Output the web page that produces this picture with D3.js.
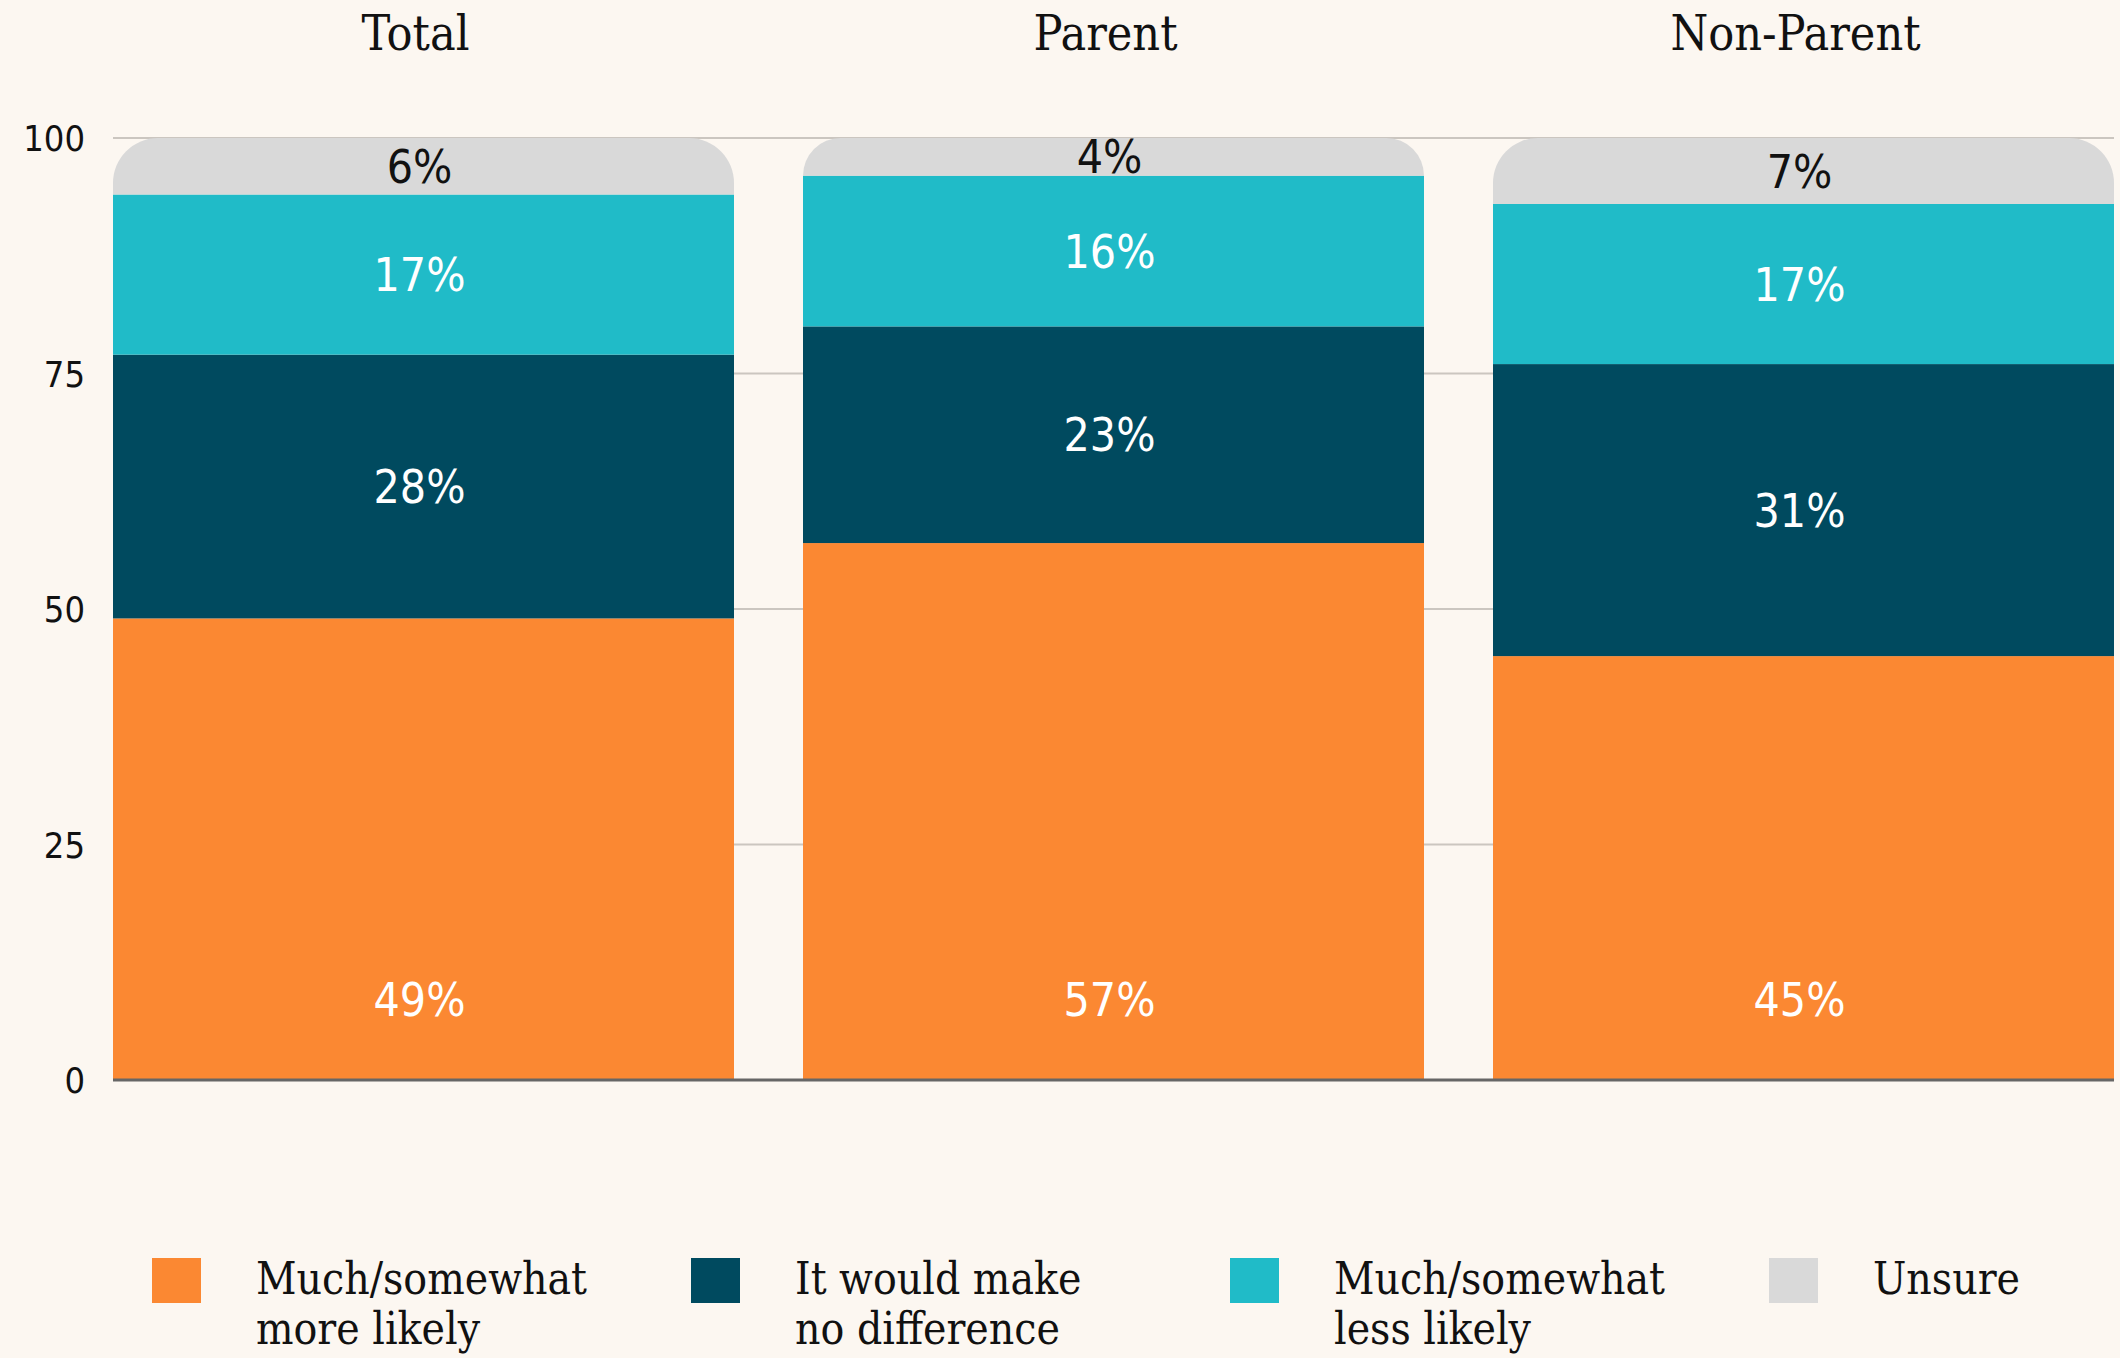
<!DOCTYPE html>
<meta charset="utf-8">
<style>
body { margin: 0; background: #fcf7f1; }
svg { display: block; background: #fcf7f1; }
.title, .legend text {
  font-family: "DejaVu Serif Condensed", "DejaVu Serif", serif;
  font-stretch: condensed;
}
.title { font-size: 48px; fill: #111; }
.legend text { font-size: 44px; fill: #111; }
.value, .yaxis text {
  font-family: "DejaVu Sans Condensed", "DejaVu Sans", sans-serif;
  font-stretch: condensed;
}
.value { font-size: 46px; }
.yaxis text { font-size: 36px; fill: #111; }
.grid line { stroke: #cbc6c0; stroke-width: 2px; }
</style>
<body>
<script src="https://d3js.org/d3.v7.min.js"></script>
<script>
// survey groups and answer shares (%)
var groups = ["Total", "Parent", "Non-Parent"];
var moreLikely   = [49, 57, 45];
var noDifference = [28, 23, 31];
var lessLikely   = [17, 16, 17];
var unsure       = [6, 4, 7];

var seriesKeys = ["more", "nodiff", "less", "unsure"];
var legendLines = [
  ["Much/somewhat", "more likely"],
  ["It would make", "no difference"],
  ["Much/somewhat", "less likely"],
  ["Unsure"]
];
var colors = ["#fb8832", "#004a5f", "#20bbc8", "#d9d9d9"];
var labelColors = ["#fff", "#fff", "#fff", "#111"];
var yTicks = [0, 25, 50, 75, 100];

var width = 2120, height = 1358;
var margin = {top: 138, right: 6, bottom: 278, left: 113};

var rows = groups.map(function(g, i) {
  return {group: g, more: moreLikely[i], nodiff: noDifference[i],
          less: lessLikely[i], unsure: unsure[i]};
});
var stacked = d3.stack().keys(seriesKeys)(rows);

var svg = d3.select("body").append("svg")
    .attr("width", width)
    .attr("height", height);

var x = d3.scaleBand()
    .domain(groups)
    .range([margin.left, width - margin.right])
    .paddingInner(0.1)
    .paddingOuter(0);

var y = d3.scaleLinear()
    .domain([0, 100])
    .range([height - margin.bottom, margin.top]);

// gridlines
svg.append("g").attr("class", "grid")
  .selectAll("line")
  .data(yTicks.filter(function(t) { return t > 0; }))
  .enter().append("line")
    .attr("x1", margin.left)
    .attr("x2", width - margin.right)
    .attr("y1", function(d) { return y(d); })
    .attr("y2", function(d) { return y(d); });

// y axis labels
var yAxis = svg.append("g")
    .attr("class", "yaxis")
    .attr("transform", "translate(" + margin.left + ",0)")
    .call(d3.axisLeft(y).tickValues(yTicks).tickSize(0).tickPadding(28));
yAxis.select(".domain").remove();
yAxis.selectAll("text").attr("dy", "0.36em");

// rounded top for the last (top) segment
function topPath(x0, w, y0, y1) {
  var h = y0 - y1;
  var r = Math.min(45, h, w / 2);
  return "M" + x0 + "," + y0 +
    "L" + x0 + "," + (y1 + r) +
    "A" + r + "," + r + " 0 0 1 " + (x0 + r) + "," + y1 +
    "L" + (x0 + w - r) + "," + y1 +
    "A" + r + "," + r + " 0 0 1 " + (x0 + w) + "," + (y1 + r) +
    "L" + (x0 + w) + "," + y0 + "Z";
}

var layer = svg.append("g").selectAll("g")
  .data(stacked)
  .enter().append("g")
    .attr("fill", function(d, i) { return colors[i]; });

layer.each(function(s, si) {
  var g = d3.select(this);
  if (si === stacked.length - 1) {
    g.selectAll("path").data(s).enter().append("path")
      .attr("d", function(d) {
        return topPath(x(d.data.group), x.bandwidth(), y(d[0]), y(d[1]));
      });
  } else {
    g.selectAll("rect").data(s).enter().append("rect")
      .attr("x", function(d) { return x(d.data.group); })
      .attr("y", function(d) { return y(d[1]); })
      .attr("width", x.bandwidth())
      .attr("height", function(d) { return y(d[0]) - y(d[1]); });
  }
});

// value labels
layer.each(function(s, si) {
  d3.select(this).selectAll("text").data(s).enter().append("text")
    .attr("class", "value")
    .attr("text-anchor", "middle")
    .attr("x", function(d) { return x(d.data.group) + x.bandwidth() / 2 - 4; })
    .attr("y", function(d) {
      if (si === 0) return y(8.5);
      return (y(d[0]) + y(d[1])) / 2;
    })
    .attr("dy", "0.36em")
    .style("fill", labelColors[si])
    .text(function(d) { return (d[1] - d[0]) + "%"; });
});

// baseline
svg.append("line")
    .attr("x1", margin.left)
    .attr("x2", width - margin.right)
    .attr("y1", y(0))
    .attr("y2", y(0))
    .style("stroke", "#666")
    .style("stroke-width", 3);

// group titles
svg.append("g").selectAll("text")
  .data(groups)
  .enter().append("text")
    .attr("class", "title")
    .attr("text-anchor", "middle")
    .attr("x", function(d) { return x(d) + x.bandwidth() / 2 - 8; })
    .attr("y", 50)
    .text(function(d) { return d; });

// legend
var lx = d3.scalePoint().domain(seriesKeys).range([152, 1769]);
var legend = svg.append("g").attr("class", "legend")
  .selectAll("g")
  .data(seriesKeys)
  .enter().append("g")
    .attr("transform", function(d) { return "translate(" + lx(d) + ",1258)"; });

legend.append("rect")
    .attr("width", 49)
    .attr("height", 45)
    .attr("fill", function(d, i) { return colors[i]; });

legend.append("text")
    .attr("x", 104)
    .attr("y", 36)
  .selectAll("tspan")
  .data(function(d, i) { return legendLines[i]; })
  .enter().append("tspan")
    .attr("x", 104)
    .attr("dy", function(d, i) { return i ? 50 : 0; })
    .text(function(d) { return d; });
</script>
</body>
